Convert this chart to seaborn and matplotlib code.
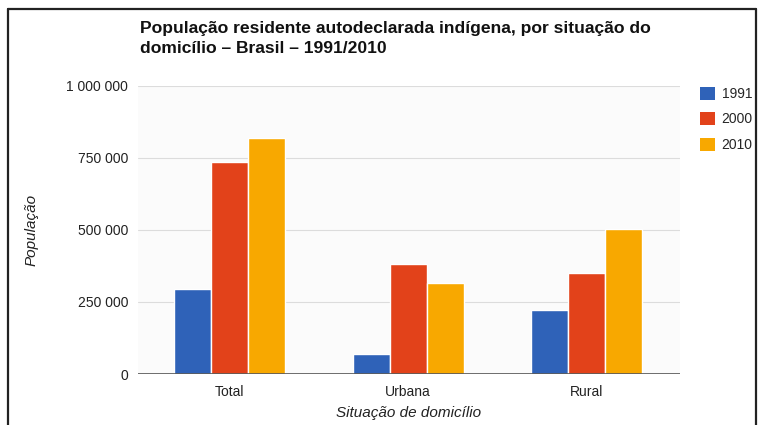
import pandas as pd
import matplotlib.pyplot as plt
import seaborn as sns
from matplotlib.lines import Line2D
from matplotlib.ticker import FuncFormatter

# Data (IBGE census)
categories = ['Total', 'Urbana', 'Rural']
years = ['1991', '2000', '2010']
pop_1991 = [294131, 71026, 223105]
pop_2000 = [734127, 383298, 350829]
pop_2010 = [817963, 315180, 502783]

colors = ['#2f62b8', '#e2421a', '#f8a800']

df = pd.DataFrame({
    'situacao': categories * 3,
    'ano': [y for y in years for _ in categories],
    'pop': pop_1991 + pop_2000 + pop_2010,
})

sns.set_style('white')
plt.rcParams['font.family'] = ['Liberation Sans', 'DejaVu Sans']

fig = plt.figure(figsize=(7.6, 4.25), dpi=100)
ax = fig.add_axes([0.1816, 0.12, 0.713, 0.678])
ax.set_facecolor('#fbfbfb')

sns.barplot(data=df, x='situacao', y='pop', hue='ano', palette=colors,
            width=0.62, gap=0, saturation=1, ax=ax, legend=False, zorder=3)

ax.set_ylim(0, 1_000_000)
ax.set_xlim(-0.51, 2.52)
ax.set_yticks([0, 250000, 500000, 750000, 1000000])
ax.yaxis.set_major_formatter(FuncFormatter(lambda v, p: f'{int(v):,}'.replace(',', ' ')))
ax.grid(axis='y', color='#dcdcdc', linewidth=0.8, zorder=0)
ax.axhline(0, color='#555555', linewidth=1.2, zorder=4)
for s in ax.spines.values():
    s.set_visible(False)
ax.tick_params(axis='both', length=0, labelsize=10, colors='#222222')
ax.tick_params(axis='y', pad=7)
ax.tick_params(axis='x', pad=8)
ax.set_xlabel('Situação de domicílio', fontsize=11, style='italic', color='#222222')
ax.set_ylabel('População', fontsize=11, style='italic', color='#222222')
ax.xaxis.set_label_coords(0.5, -0.112)
ax.yaxis.set_label_coords(-0.183, 0.5)

fig.text(140 / 760, 1 - 21 / 425, 'População residente autodeclarada indígena, por situação do\ndomicílio – Brasil – 1991/2010',
         fontsize=12.6, fontweight='bold', va='top', ha='left', color='#111111', linespacing=1.4)

# legend
handles = [plt.Rectangle((0, 0), 1, 1, facecolor=c, edgecolor='none') for c in colors]
fig.legend(handles, years, loc='upper left', bbox_to_anchor=(687 / 760, 1 - 74 / 425),
           frameon=False, fontsize=10, handlelength=1.1, handleheight=1.1,
           labelspacing=0.8, handletextpad=0.5)

# outer frame
for xs, ys in [((8, 8), (9, 425)), ((8, 756), (9, 9)), ((756, 756), (9, 425))]:
    fig.add_artist(Line2D([x / 760 for x in xs], [1 - y / 425 for y in ys],
                          color='#222222', linewidth=1.6))

fig.savefig('out.png', dpi=100)
